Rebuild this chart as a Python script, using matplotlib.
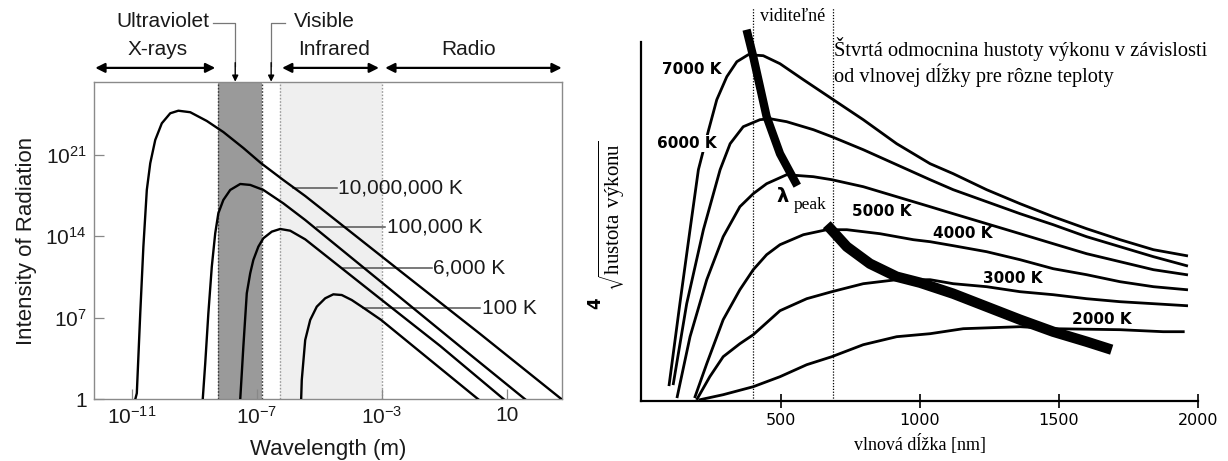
import matplotlib
matplotlib.use('Agg')
import numpy as np
import matplotlib.pyplot as plt
from matplotlib.transforms import blended_transform_factory

# ---------------- LEFT PANEL DATA (log10 values) ----------------
left_labels = ['10,000,000 K', '100,000 K', '6,000 K', '100 K']

lam_exp_10MK = [-10.89, -10.84, -10.73, -10.63, -10.52, -10.41, -10.25, -10.04, -9.77, -9.51,
                -9.13, -8.60, -8.07, -7.43, -6.87, -6.15, -5.45, -2.41, 0.15, 2.76]
int_exp_10MK = [0.0, 0.52, 7.38, 13.10, 17.97, 20.26, 22.26, 23.69, 24.55, 24.77,
                24.64, 23.89, 22.94, 21.57, 20.28, 18.82, 17.45, 11.01, 5.61, 0.0]

lam_exp_100kK = [-8.73, -8.65, -8.55, -8.44, -8.33, -8.23, -8.07, -7.85, -7.53, -7.21,
                 -6.79, -6.15, -5.45, -2.41, -0.49, 1.59]
int_exp_100kK = [0.0, 3.09, 7.38, 11.38, 14.25, 15.97, 17.11, 17.97, 18.48, 18.40,
                 17.97, 16.82, 15.39, 8.74, 4.53, 0.0]

lam_exp_6kK = [-7.53, -7.48, -7.43, -7.32, -7.21, -7.11, -6.95, -6.79, -6.52, -6.25,
               -5.93, -5.45, -3.02, -1.13, 0.91]
int_exp_6kK = [0.0, 2.23, 4.52, 9.10, 10.82, 11.96, 13.10, 13.82, 14.39, 14.62,
               14.47, 13.73, 8.57, 4.58, 0.0]

lam_exp_100K = [-5.58, -5.56, -5.45, -5.29, -5.08, -4.81, -4.55, -4.28, -3.96, -3.59,
                -3.02, -1.45, 0.09]
int_exp_100K = [0.0, 1.66, 5.09, 6.81, 7.95, 8.67, 9.01, 8.95, 8.52, 7.86,
                6.81, 3.37, 0.0]

label_int_exp = [18.14, 14.79, 11.24, 7.81]
leader_lam_start = [-5.84, -5.08, -4.23, -3.59]
leader_lam_end = [-4.43, -2.89, -1.40, 0.15]
label_lam_exp = [-4.40, -2.84, -1.36, 0.20]

xtick_exps = [-11, -7, -3, 1]
xtick_labels = [r'$\mathregular{10^{-11}}$', r'$\mathregular{10^{-7}}$',
                r'$\mathregular{10^{-3}}$', '10']
ytick_exps = [0, 7, 14, 21]
ytick_labels = ['1', r'$\mathregular{10^{7}}$', r'$\mathregular{10^{14}}$', r'$\mathregular{10^{21}}$']

band_dark = [-8.23, -6.84]      # "Ultraviolet" band
band_light = [-6.25, -3.00]     # "Infrared" band

# ---------------- RIGHT PANEL DATA (wavelength nm, arbitrary height) ----------------
right_labels = ['7000 K', '6000 K', '5000 K', '4000 K', '3000 K', '2000 K']
nm_7000 = [100, 139, 175, 205, 217, 242, 271, 307, 343, 384, 438, 498, 582, 684, 797, 917, 1037,
           1120, 1240, 1360, 1479, 1599, 1719, 1839, 1958]
y_7000 = [16, 98, 171, 231, 244, 271, 301, 324, 339, 346, 345, 337, 321, 302, 281, 257, 237,
          227, 211, 197, 184, 172, 161, 151, 145]
nm_6000 = [115, 163, 223, 283, 319, 366, 426, 462, 522, 618, 684, 797, 917, 1037, 1120, 1240,
           1360, 1479, 1599, 1719, 1839, 1958]
y_6000 = [17, 97, 171, 231, 257, 274, 281, 282, 279, 271, 264, 251, 236, 221, 211, 199,
          187, 176, 164, 154, 144, 135]
nm_5000 = [129, 175, 235, 294, 354, 402, 450, 498, 522, 618, 684, 797, 917, 1037, 1120, 1240,
           1360, 1479, 1599, 1719, 1839, 1958]
y_5000 = [4, 64, 121, 164, 194, 207, 217, 223, 226, 224, 221, 214, 204, 194, 187, 177,
          167, 157, 147, 139, 131, 126]
nm_4000 = [193, 235, 294, 354, 402, 450, 498, 582, 666, 738, 857, 977, 1037, 1120, 1240, 1360,
           1479, 1599, 1719, 1839, 1958]
y_4000 = [4, 37, 81, 111, 131, 146, 156, 166, 171, 171, 167, 161, 159, 155, 149, 141,
          132, 126, 119, 114, 111]
nm_3000 = [201, 246, 294, 354, 402, 450, 498, 594, 684, 797, 917, 1037, 1120, 1240, 1360, 1479,
           1599, 1719, 1839, 1958]
y_3000 = [2, 24, 44, 57, 66, 78, 90, 102, 109, 117, 121, 121, 117, 114, 109, 106,
          102, 99, 97, 95]
nm_2000 = [211, 294, 402, 498, 594, 684, 797, 917, 1037, 1156, 1360, 1479, 1719, 1874, 1946]
y_2000 = [1, 6, 14, 24, 36, 44, 56, 64, 67, 72, 74, 72, 71, 69, 69]

peak_upper_nm = [378, 402, 450, 498, 560]
peak_upper_y = [371, 344, 284, 247, 215]
peak_lower_nm = [666, 738, 821, 917, 1001, 1120, 1240, 1360, 1479, 1599, 1689]
peak_lower_y = [176, 154, 137, 124, 118, 107, 94, 81, 69, 59, 51]

label_nm = [181, 163, 863, 1155, 1333, 1653]
label_y = [331, 257, 189, 167, 122, 81]

visible_nm = [400, 690]
right_xticks = [500, 1000, 1500, 2000]

# ---------------- FIGURE ----------------
W, H = 1228, 461
fig = plt.figure(figsize=(W / 100, H / 100), dpi=100)


def rect(x0, y0, x1, y1):
    return [x0 / W, 1 - y1 / H, (x1 - x0) / W, (y1 - y0) / H]


SANS = 'Liberation Sans'
SERIF = 'Liberation Serif'
TXT = '#1a1a1a'

# ================= LEFT PANEL =================
ax1 = fig.add_axes(rect(93.7, 81.7, 561.7, 399.3))
ax1.set_xscale('log')
ax1.set_yscale('log')
ax1.set_xlim(10 ** -12.22, 10 ** 2.76)
ax1.set_ylim(1, 10 ** 27.26)

ax1.axvspan(10 ** band_dark[0], 10 ** band_dark[1], color='#9a9a9a', lw=0, zorder=0)
ax1.axvspan(10 ** band_light[0], 10 ** band_light[1], color='#efefef', lw=0, zorder=0)
for e in band_dark:
    ax1.axvline(10 ** e, color='#3a3a3a', ls=(0, (1.2, 1.2)), lw=1.0, zorder=1)
for e in band_light:
    ax1.axvline(10 ** e, color='#9a9a9a', ls=(0, (1.2, 1.2)), lw=1.0, zorder=1)

for lx, ly in [(lam_exp_10MK, int_exp_10MK), (lam_exp_100kK, int_exp_100kK),
               (lam_exp_6kK, int_exp_6kK), (lam_exp_100K, int_exp_100K)]:
    ax1.plot(10 ** np.array(lx), 10 ** np.array(ly), color='black', lw=1.7,
             solid_joinstyle='round', zorder=3)

for i, lab in enumerate(left_labels):
    ax1.plot([10 ** leader_lam_start[i], 10 ** leader_lam_end[i]],
             [10 ** label_int_exp[i]] * 2, color='#555555', lw=1.1, zorder=2)
    ax1.text(10 ** label_lam_exp[i], 10 ** label_int_exp[i], lab, ha='left', va='center',
             fontsize=15, family=SANS, color=TXT, zorder=4)

ax1.set_xticks([10.0 ** e for e in xtick_exps])
ax1.set_xticklabels(xtick_labels)
ax1.set_yticks([10.0 ** e for e in ytick_exps])
ax1.set_yticklabels(ytick_labels)
ax1.minorticks_off()
ax1.tick_params(direction='in', length=7, width=0.9, color='#888888', labelsize=15,
                labelcolor=TXT, pad=5)
for t in ax1.get_xticklabels() + ax1.get_yticklabels():
    t.set_family(SANS)
for s in ax1.spines.values():
    s.set_color('#8a8a8a')
    s.set_linewidth(1.0)

ax1.set_xlabel('Wavelength (m)', fontsize=16, family=SANS, color=TXT, labelpad=8)
ax1.set_ylabel('Intensity of Radiation', fontsize=16, family=SANS, color=TXT, labelpad=6)

# region annotations above the frame
trans = blended_transform_factory(ax1.transData, ax1.transAxes)
kw = dict(transform=trans, ha='center', va='center', fontsize=15, family=SANS, color=TXT,
          clip_on=False)
ax1.text(10 ** -10.01, 1.188, 'Ultraviolet', **kw)
ax1.text(10 ** -10.16, 1.100, 'X-rays', **kw)
ax1.text(10 ** -4.85, 1.188, 'Visible', **kw)
ax1.text(10 ** -4.54, 1.100, 'Infrared', **kw)
ax1.text(10 ** -0.22, 1.100, 'Radio', **kw)

arr = dict(arrowstyle='<|-|>', color='black', lw=1.6, mutation_scale=14, shrinkA=0, shrinkB=0)
for a, b in [(-12.17, -8.33), (-6.19, -3.09), (-2.89, 2.76)]:
    ax1.annotate('', xy=(10 ** b, 1.0435), xytext=(10 ** a, 1.0435), xycoords=trans,
                 textcoords=trans, arrowprops=arr, annotation_clip=False)

for xa, xb in [(-8.40, -7.69), (-6.09, -6.54)]:
    ax1.plot([10 ** xa, 10 ** xb, 10 ** xb], [1.185, 1.185, 1.05], transform=trans,
             color='#777777', lw=0.9, clip_on=False)
    ax1.annotate('', xy=(10 ** xb, 1.0), xytext=(10 ** xb, 1.06), xycoords=trans,
                 textcoords=trans, annotation_clip=False,
                 arrowprops=dict(arrowstyle='-|>', color='black', lw=1.0, mutation_scale=9,
                                 shrinkA=0, shrinkB=0))

# ================= RIGHT PANEL =================
ax2 = fig.add_axes(rect(641.3, 40.7, 1198.3, 400.7))
ax2.set_xlim(0, 2000)
ax2.set_ylim(0, 360)
ax2.spines['top'].set_visible(False)
ax2.spines['right'].set_visible(False)
ax2.spines['left'].set_linewidth(1.6)
ax2.spines['bottom'].set_linewidth(1.6)
ax2.spines['left'].set_bounds(0, 359)

for xs, ys in [(nm_7000, y_7000), (nm_6000, y_6000), (nm_5000, y_5000),
               (nm_4000, y_4000), (nm_3000, y_3000), (nm_2000, y_2000)]:
    ax2.plot(xs, ys, color='black', lw=2.0, solid_joinstyle='round', zorder=3)

ax2.plot(peak_upper_nm, peak_upper_y, color='black', lw=6.0, solid_capstyle='butt',
         zorder=4, clip_on=False)
ax2.plot(peak_lower_nm, peak_lower_y, color='black', lw=7.5, solid_capstyle='butt', zorder=4)

for v in visible_nm:
    ax2.plot([v, v], [0, 393], color='black', lw=0.9, ls=(0, (1, 1.3)), clip_on=False, zorder=2)

for i, lab in enumerate(right_labels):
    ax2.text(label_nm[i], label_y[i], lab, ha='center', va='center', fontsize=11,
             fontweight='bold', family='DejaVu Sans', color='black', zorder=5,
             bbox=dict(facecolor='white', edgecolor='none', pad=0.5) if i == 1 else None)

ax2.text(506, 204, 'λ', ha='center', va='center', fontsize=14, fontweight='bold',
         family='DejaVu Sans', zorder=5)
ax2.text(608, 196, 'peak', ha='center', va='center', fontsize=12.5, family=SERIF, zorder=5)
ax2.text(sum(visible_nm) / 2, 384, 'viditeľné', ha='center', va='center', fontsize=13,
         family=SERIF, clip_on=False)

ax2.set_xticks(right_xticks)
ax2.set_yticks([])
ax2.tick_params(axis='x', direction='inout', length=10, width=1.2, labelsize=11.5, pad=4)
for t in ax2.get_xticklabels():
    t.set_family('DejaVu Sans')
ax2.set_xlabel('vlnová dĺžka [nm]', fontsize=13, family=SERIF, labelpad=4)

fig.text(834 / W, 1 - 49 / H, 'Štvrtá odmocnina hustoty výkonu v závislosti', ha='left',
         va='center', fontsize=14.7, family=SERIF)
fig.text(834 / W, 1 - 75 / H, 'od vlnovej dĺžky pre rôzne teploty', ha='left',
         va='center', fontsize=14.7, family=SERIF)

# y label: fourth root of "hustota výkonu"
fig.text(612 / W, 1 - 216 / H, r'$\sqrt{\mathregular{hustota\ výkonu}}$', rotation=90,
         ha='center', va='center', fontsize=15, family=SERIF)
fig.text(595 / W, 1 - 303 / H, '4', rotation=90, ha='center', va='center', fontsize=12,
         fontweight='bold', family='DejaVu Sans')

fig.savefig('out.png', dpi=100)
